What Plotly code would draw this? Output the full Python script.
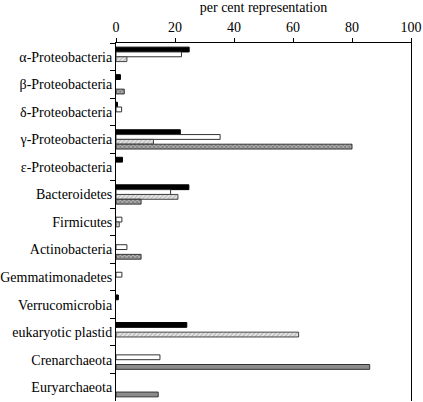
import plotly.graph_objects as go

categories = ["α-Proteobacteria", "β-Proteobacteria", "δ-Proteobacteria", "γ-Proteobacteria",
              "ε-Proteobacteria", "Bacteroidetes", "Firmicutes", "Actinobacteria",
              "Gemmatimonadetes", "Verrucomicrobia", "eukaryotic plastid", "Crenarchaeota",
              "Euryarchaeota"]
series_black = [24.8, 1.5, 0.5, 21.8, 2.2, 24.7, None, None, None, 0.8, 24.0, None, None]
series_white = [22.2, None, 1.9, 35.3, None, 18.5, 2.0, 3.7, 2.0, None, None, 14.9, None]
series_hatch = [3.7, None, None, 12.7, None, 21.0, 1.1, None, None, None, 61.9, None, None]
series_dark = [None, 2.8, None, 80.0, None, 8.5, None, 8.5, None, None, None, 86.0, 14.3]
x_ticks = [0, 20, 40, 60, 80, 100]

font = "Liberation Serif"

fig = go.Figure()
fig.add_trace(go.Bar(y=categories, x=series_black, orientation="h",
                     marker=dict(color="black", line=dict(color="black", width=1))))
fig.add_trace(go.Bar(y=categories, x=series_white, orientation="h",
                     marker=dict(color="white", line=dict(color="#333", width=1))))
fig.add_trace(go.Bar(y=categories, x=series_hatch, orientation="h",
                     marker=dict(color="white", line=dict(color="#444", width=1),
                                 pattern=dict(shape="/", fgcolor="#888", bgcolor="#e8e8e8",
                                              size=3, solidity=0.4))))
dark_shapes = ["x" if c not in ("Crenarchaeota", "Euryarchaeota") else "" for c in categories]
dark_colors = ["#777" if c not in ("Crenarchaeota", "Euryarchaeota") else "#8c8c8c" for c in categories]
fig.add_trace(go.Bar(y=categories, x=series_dark, orientation="h",
                     marker=dict(color=dark_colors, line=dict(color="#333", width=1),
                                 pattern=dict(shape=dark_shapes, fgcolor="#333", bgcolor="#bbb",
                                              size=3, solidity=0.5))))

fig.update_layout(
    width=423, height=402,
    margin=dict(l=116, r=12, t=43, b=1, autoexpand=False),
    barmode="group", bargap=0.3, bargroupgap=0,
    showlegend=False,
    plot_bgcolor="white", paper_bgcolor="white",
    font=dict(family=font, size=14, color="black"),
    xaxis=dict(side="top", range=[0, 100], tickvals=x_ticks, ticks="outside", ticklen=4,
               tickcolor="black", showline=True, linecolor="black", linewidth=1,
               showgrid=False, zeroline=False, mirror=False, automargin=False,
               title=dict(text="per cent representation", standoff=4,
                          font=dict(family=font, size=14)),
               tickfont=dict(family=font, size=14)),
    yaxis=dict(range=[12.5, -0.5], autorange=False, type="category", tickson="boundaries",
               ticks="outside", ticklen=5, tickcolor="black", showline=True,
               linecolor="black", linewidth=1, mirror=True, showgrid=False, zeroline=False,
               automargin=False, tickfont=dict(family=font, size=14)),
)

fig.write_html("out.html", config={"displayModeBar": False},
               post_script="document.body.style.margin='0px';")
